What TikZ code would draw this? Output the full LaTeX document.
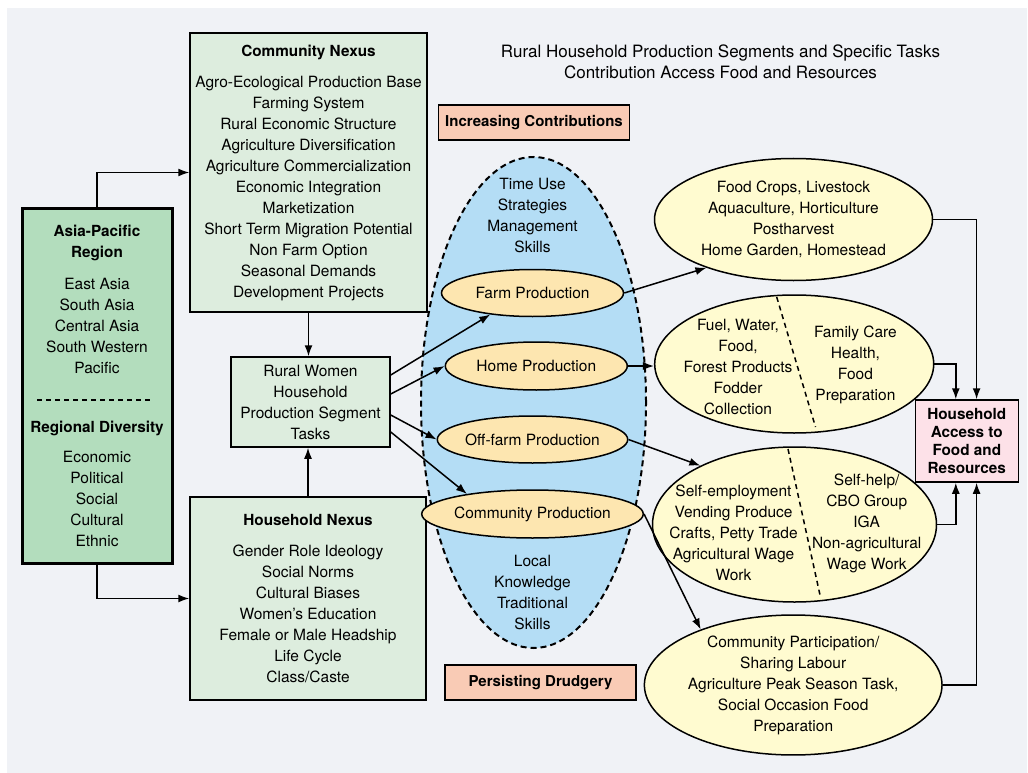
\documentclass[tikz,border=0pt]{standalone}
\usepackage{fontspec}
\setmainfont{TeX Gyre Heros}
\usetikzlibrary{shapes.geometric, arrows.meta, positioning}

\definecolor{bggrey}{RGB}{240,242,246}
\definecolor{nexusgreen}{RGB}{221,237,222}
\definecolor{regiongreen}{RGB}{179,221,189}
\definecolor{tagsalmon}{RGB}{249,203,181}
\definecolor{skillblue}{RGB}{180,221,245}
\definecolor{segpeach}{RGB}{253,230,176}
\definecolor{taskyellow}{RGB}{255,251,208}
\definecolor{accesspink}{RGB}{253,225,232}

\newcommand{\boxtitle}[1]{{\bfseries\fontsize{15.3}{21}\selectfont #1}}

\tikzstyle{box} = [rectangle, draw=black, line width=1.5pt, fill=nexusgreen, align=center, inner sep=0pt, font=\fontsize{15.5}{21}\selectfont]
\tikzstyle{region} = [box, line width=3pt, fill=regiongreen]
\tikzstyle{tag} = [rectangle, draw=black, line width=1.5pt, fill=tagsalmon, minimum width=191pt, minimum height=35pt, font=\bfseries\fontsize{15}{18}\selectfont]
\tikzstyle{segment} = [ellipse, draw=black, line width=1.5pt, fill=segpeach, inner sep=0pt, minimum width=182pt, minimum height=47pt, font=\fontsize{15.5}{21}\selectfont]
\tikzstyle{task} = [ellipse, draw=black, line width=1.5pt, fill=taskyellow, inner sep=0pt, align=center, font=\fontsize{15.5}{21}\selectfont]
\tikzstyle{txt} = [align=center, inner sep=0pt, font=\fontsize{15.5}{21}\selectfont]
\tikzstyle{divider} = [line width=1.5pt, dash pattern=on 5pt off 4pt]
\tikzstyle{arrow} = [line width=1.5pt, -{Latex[length=11pt, width=8pt]}]

\begin{document}
\begin{tikzpicture}[x=1pt, y=-1pt]

\useasboundingbox (0,0) rectangle (1028,773);
\fill [bggrey] (7,8) rectangle (1027,773);

% Title
\node (title) [txt, font=\fontsize{17}{21}\selectfont] at (720.5,62) {Rural Household Production Segments and Specific Tasks\\Contribution Access Food and Resources};

% Asia-Pacific region
\node (asia) [region, minimum width=150pt, minimum height=355pt] at (97,385.5) {
    \boxtitle{Asia-Pacific}\\ \boxtitle{Region}\\[11pt]
    East Asia\\ South Asia\\ Central Asia\\ South Western\\ Pacific\\[38pt]
    \boxtitle{Regional Diversity}\\[9pt]
    Economic\\ Political\\ Social\\ Cultural\\ Ethnic
};
\draw [line width=1.5pt, dash pattern=on 5pt off 4pt] (37,400) -- (153,400);

% Community nexus
\node (community) [box, minimum width=237pt, minimum height=279pt] at (308.5,172.5) {
    \boxtitle{Community Nexus}\\[10pt]
    Agro-Ecological Production Base\\ Farming System\\ Rural Economic Structure\\
    Agriculture Diversification\\ Agriculture Commercialization\\ Economic Integration\\
    Marketization\\ Short Term Migration Potential\\ Non Farm Option\\
    Seasonal Demands\\ Development Projects
};

% Rural women
\node (women) [box, minimum width=159pt, minimum height=90pt] at (310.5,402) {
    Rural Women\\ Household\\ Production Segment\\ Tasks
};

% Household nexus
\node (household) [box, minimum width=236pt, minimum height=203pt] at (308,598.5) {
    \boxtitle{Household Nexus}\\[10pt]
    Gender Role Ideology\\ Social Norms\\ Cultural Biases\\ Women’s Education\\
    Female or Male Headship\\ Life Cycle\\ Class/Caste
};

% Contribution tags
\node (increasing) [tag] at (534,122.5) {Increasing Contributions};
\node (drudgery) [tag] at (540.5,682.5) {Persisting Drudgery};

% Skills
\node (skills) [ellipse, draw=black, fill=skillblue, line width=2pt, dash pattern=on 6pt off 4pt, minimum width=225pt, minimum height=491pt] at (533.5,402.5) {};
\node (timeuse) [txt] at (532.5,215) {Time Use\\ Strategies\\ Management\\ Skills};
\node (local) [txt] at (532.5,592) {Local\\ Knowledge\\ Traditional\\ Skills};

% Production segments
\node (farm) [segment] at (532.5,293) {Farm Production};
\node (home) [segment, minimum height=48pt] at (536.3,366) {Home Production};
\node (offfarm) [segment] at (532.5,439.5) {Off-farm Production};
\node (commprod) [segment, minimum height=48pt] at (532.5,514) {Community Production};

% Specific tasks
\node (crops) [task, minimum width=278pt, minimum height=122pt] at (793.5,219.5) {
    Food Crops, Livestock\\ Aquaculture, Horticulture\\ Postharvest\\ Home Garden, Homestead
};
\node (fuel) [task, minimum width=279pt, minimum height=138pt] at (794.2,364) {};
\node (fuelleft) [txt] at (738,367) {Fuel, Water,\\ Food,\\ Forest Products\\ Fodder\\ Collection};
\node (fuelright) [txt] at (855.4,364.5) {Family Care\\ Health,\\ Food\\ Preparation};
\draw [divider] (776.7,297) -- (815.5,427);

\node (selfemp) [task, minimum width=284pt, minimum height=155pt] at (794.5,524.5) {};
\node (selfempleft) [txt] at (733.5,533) {Self-employment\\ Vending Produce\\ Crafts, Petty Trade\\ Agricultural Wage\\ Work};
\node (selfempright) [txt] at (866.7,523) {Self-help/\\ CBO Group\\ IGA\\ Non-agricultural\\ Wage Work};
\draw [divider] (788,449) -- (820,595);

\node (participation) [task, minimum width=279pt, minimum height=136pt] at (793.2,685) {
    Community Participation/\\ Sharing Labour\\ Agriculture Peak Season Task,\\ Social Occasion Food\\ Preparation
};

% Household access
\node (access) [rectangle, draw=black, line width=1.5pt, fill=accesspink, minimum width=103pt, minimum height=82pt, align=center, inner sep=0pt, font=\bfseries\fontsize{15.3}{18.3}\selectfont] at (966.8,441) {
    Household\\ Access to\\ Food and\\ Resources
};

% Arrows
\draw [arrow] (asia.north) |- (community.west);
\draw [arrow] (asia.south) |- (household.west);
\draw [arrow] (community.south) -- (community.south |- women.north);
\draw [arrow] (household.north) -- (household.north |- women.south);

\draw [arrow] ([yshift=27pt]women.east) -- (farm.207);
\draw [arrow] ([yshift=8pt]women.east) -- (home.west);
\draw [arrow] ([yshift=-13pt]women.east) -- (offfarm.west);
\draw [arrow] ([yshift=-30pt]women.east) -- (commprod.163);

\draw [arrow] (farm.east) -- (crops.209);
\draw [arrow] (home.east) -- (home.east -| fuel.west);
\draw [arrow] (offfarm.east) -- (selfemp.148);
\draw [arrow] (commprod.east) -- (participation.149);

\draw [arrow] (crops.east) -| ([xshift=9.8pt]access.north);
\draw [arrow] (fuel.east) -| ([xshift=-11pt]access.north);
\draw [arrow] (selfemp.east) -| ([xshift=-11pt]access.south);
\draw [arrow] (participation.east) -| ([xshift=9.8pt]access.south);

\end{tikzpicture}
\end{document}
